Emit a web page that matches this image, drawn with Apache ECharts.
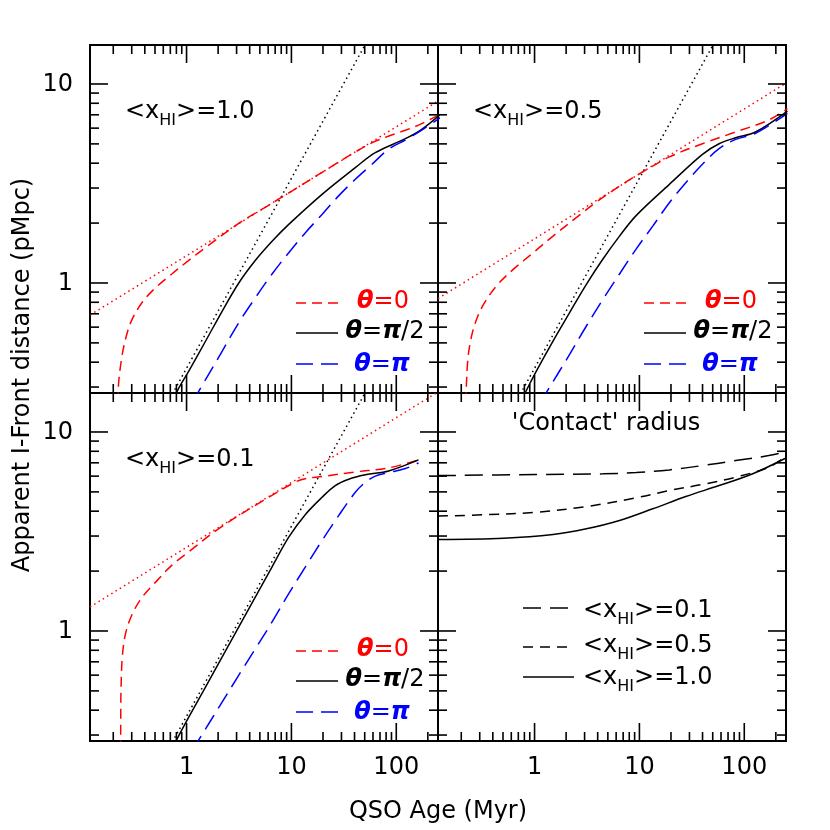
<!DOCTYPE html>
<html>
<head>
<meta charset="utf-8">
<script src="https://cdn.jsdelivr.net/npm/echarts@6/dist/echarts.min.js"></script>
<style>
  html, body { margin: 0; padding: 0; background: #fff; }
  #chart { width: 830px; height: 830px; }
</style>
</head>
<body>
<div id="chart"></div>
<script>
// axes (QSO age in Myr, distance in pMpc), same for all 4 panels
var xRange = [0.12, 250];
var yRange = [0.28, 15.7];
var xMajorTicks = [1, 10, 100];
var xTickLabels = ['1', '10', '100'];
var xMinorTicks = [0.2, 0.3, 0.4, 0.5, 0.6, 0.7, 0.8, 0.9, 2, 3, 4, 5, 6, 7, 8, 9, 20, 30, 40, 50, 60, 70, 80, 90, 200];
var yMajorTicks = [1, 10];
var yTickLabels = ['1', '10'];
var yMinorTicks = [0.3, 0.4, 0.5, 0.6, 0.7, 0.8, 0.9, 2, 3, 4, 5, 6, 7, 8, 9];

// black dotted line (light travel), same in the 3 theta panels
var lightDotted = [[0.658, 0.25], [54.7, 17]];

// <x_HI>=1.0  (top left)
var tlRedDotted = [[0.12, 0.69], [250, 8.2]];
var tlRedDashed = [[0.222, 0.25], [0.223, 0.29], [0.239, 0.41], [0.266, 0.54], [0.304, 0.66], [0.378, 0.80], [0.489, 0.93], [0.68, 1.08], [1.05, 1.30], [1.5, 1.50], [3, 1.96], [6, 2.45], [10, 2.89], [20, 3.62], [40, 4.53], [59, 5.07], [85, 5.48], [122, 5.85], [175, 6.32], [250, 6.95]];
var tlBlack = [[0.74, 0.25], [0.815, 0.286], [1.05, 0.361], [1.52, 0.511], [2.19, 0.723], [3.15, 1.0], [4.54, 1.30], [6.54, 1.62], [9.43, 1.97], [19.6, 2.79], [40.7, 3.80], [63.1, 4.52], [122, 5.31], [175, 5.92], [264, 7.04]];
var tlBlue = [[1.13, 0.25], [1.31, 0.286], [2.19, 0.455], [3.15, 0.632], [4.54, 0.844], [6.54, 1.11], [9.43, 1.42], [13.6, 1.79], [19.6, 2.21], [28.2, 2.74], [40.7, 3.32], [58.7, 3.95], [84.5, 4.70], [122, 5.23], [175, 5.87], [264, 6.78]];

// <x_HI>=0.5  (top right)
var trRedDotted = [[0.12, 0.835], [250, 10.1]];
var trRedDashed = [[0.222, 0.25], [0.223, 0.29], [0.230, 0.40], [0.243, 0.50], [0.272, 0.63], [0.326, 0.78], [0.436, 0.97], [0.626, 1.17], [0.971, 1.42], [1.5, 1.72], [2.5, 2.13], [4, 2.58], [7, 3.15], [12.4, 3.78], [19.3, 4.3], [39.9, 5.01], [82.8, 5.74], [171, 6.59], [258, 7.51]];
var trBlack = [[0.74, 0.25], [0.84, 0.29], [1.04, 0.361], [1.5, 0.511], [2.16, 0.71], [3.12, 0.985], [4.49, 1.32], [6.46, 1.72], [9.3, 2.18], [19.3, 3.13], [39.9, 4.43], [57.5, 5.01], [82.8, 5.37], [128, 5.74], [258, 7.31]];
var trBlue = [[1.13, 0.25], [1.32, 0.286], [2.16, 0.438], [3.12, 0.608], [4.49, 0.828], [6.46, 1.11], [9.3, 1.48], [13.4, 1.93], [19.3, 2.53], [27.7, 3.19], [39.9, 3.95], [57.5, 4.73], [82.8, 5.27], [128, 5.65], [258, 7.12]];

// <x_HI>=0.1  (bottom left)
var blRedDotted = [[0.12, 1.32], [250, 15.9]];
var blRedDashed = [[0.235, 0.25], [0.236, 0.40], [0.237, 0.504], [0.244, 0.741], [0.262, 0.97], [0.304, 1.22], [0.378, 1.48], [0.507, 1.76], [0.73, 2.15], [1.05, 2.5], [2, 3.25], [5, 4.42], [10.9, 5.6], [14, 5.85], [19.6, 5.97], [40.7, 6.3], [84.5, 6.6], [163, 7.24]];
var blBlack = [[0.74, 0.25], [0.815, 0.288], [1.52, 0.524], [3.15, 1.05], [6.54, 2.10], [9.43, 2.96], [13.6, 3.85], [19.6, 4.70], [26.2, 5.38], [35.2, 5.79], [50.7, 6.09], [84.5, 6.37], [163, 7.24]];
var blBlue = [[1.13, 0.25], [1.33, 0.288], [2.19, 0.44], [3.15, 0.60], [4.54, 0.815], [6.54, 1.11], [9.43, 1.54], [13.6, 2.10], [19.6, 2.85], [28.2, 3.80], [40.7, 4.98], [50.7, 5.59], [63.1, 6.0], [84.5, 6.25], [122, 6.55], [163, 6.99]];

// 'Contact' radius (bottom right)
var contact01 = [[0.12, 6.04], [1.04, 6.11], [4.49, 6.16], [9.3, 6.25], [19.3, 6.45], [39.9, 6.78], [82.8, 7.18], [171, 7.61], [250, 7.94]];
var contact05 = [[0.12, 3.78], [0.35, 3.84], [1.04, 3.95], [3.12, 4.22], [9.3, 4.67], [19.3, 5.08], [39.9, 5.45], [82.8, 5.93], [171, 6.65], [250, 7.55]];
var contact10 = [[0.12, 2.88], [0.505, 2.92], [1.5, 3.05], [3.12, 3.26], [6.46, 3.59], [13.4, 4.11], [27.7, 4.74], [57.5, 5.38], [119, 6.15], [250, 7.40]];

var FONT = 'DejaVu Sans';
var RED = '#ff0000', BLUE = '#0000ff', BLACK = '#000000';
var SHORT_DASH = [10, 6], LONG_DASH = [17, 8], DOTS = [1.5, 3.5];

// panel boxes in pixels
var panels = [
  { left: 90, top: 45, xLabels: false, yLabels: true },
  { left: 438, top: 45, xLabels: false, yLabels: false },
  { left: 90, top: 393, xLabels: true, yLabels: true },
  { left: 438, top: 393, xLabels: true, yLabels: false }
];
var PW = 348, PH = 348;

var chart = echarts.init(document.getElementById('chart'), null, { renderer: 'canvas' });

function tickSeries(i, showX, showY) {
  var data = [];
  xMajorTicks.forEach(function (v, k) { data.push([v, yRange[0], 1, 0, k]); });
  xMinorTicks.forEach(function (v) { data.push([v, yRange[0], 0, 0, -1]); });
  yMajorTicks.forEach(function (v, k) { data.push([xRange[0], v, 1, 1, k]); });
  yMinorTicks.forEach(function (v) { data.push([xRange[0], v, 0, 1, -1]); });
  return {
    type: 'custom', xAxisIndex: i, yAxisIndex: i, silent: true, z: 6,
    data: data,
    renderItem: function (params, api) {
      var cs = params.coordSys;
      var major = api.value(2) === 1;
      var isY = api.value(3) === 1;
      var len = major ? 18 : 9;
      var st = { stroke: BLACK, lineWidth: 1.6 };
      var kids = [];
      var p = api.coord([api.value(0), api.value(1)]);
      if (!isY) {
        var x = p[0];
        var yb = cs.y + cs.height, yt = cs.y;
        kids.push({ type: 'line', shape: { x1: x, y1: yb, x2: x, y2: yb - len }, style: st });
        kids.push({ type: 'line', shape: { x1: x, y1: yt, x2: x, y2: yt + len }, style: st });
        if (major && showX) {
          kids.push({ type: 'text', x: x, y: yb + 27, style: {
            text: xTickLabels[api.value(4)], fill: BLACK, fontSize: 24, fontFamily: FONT,
            align: 'center', verticalAlign: 'middle' } });
        }
      } else {
        var y = p[1];
        var xl = cs.x, xr = cs.x + cs.width;
        kids.push({ type: 'line', shape: { x1: xl, y1: y, x2: xl + len, y2: y }, style: st });
        kids.push({ type: 'line', shape: { x1: xr, y1: y, x2: xr - len, y2: y }, style: st });
        if (major && showY) {
          kids.push({ type: 'text', x: xl - 17, y: y + 1, style: {
            text: yTickLabels[api.value(4)], fill: BLACK, fontSize: 24, fontFamily: FONT,
            align: 'right', verticalAlign: 'middle' } });
        }
      }
      return { type: 'group', children: kids };
    }
  };
}

function curve(i, data, color, dash, smooth) {
  return {
    type: 'line', xAxisIndex: i, yAxisIndex: i, data: data,
    symbol: 'none', showSymbol: false, silent: true, clip: true, z: 3,
    smooth: smooth ? 0.35 : false,
    lineStyle: { color: color, width: 1.5, type: dash }
  };
}

var series = [];
panels.forEach(function (p, i) { series.push(tickSeries(i, p.xLabels, p.yLabels)); });

series.push(curve(0, lightDotted, BLACK, DOTS, false));
series.push(curve(0, tlRedDotted, RED, DOTS, false));
series.push(curve(0, tlRedDashed, RED, SHORT_DASH, true));
series.push(curve(0, tlBlack, BLACK, 'solid', true));
series.push(curve(0, tlBlue, BLUE, LONG_DASH, true));

series.push(curve(1, lightDotted, BLACK, DOTS, false));
series.push(curve(1, trRedDotted, RED, DOTS, false));
series.push(curve(1, trRedDashed, RED, SHORT_DASH, true));
series.push(curve(1, trBlack, BLACK, 'solid', true));
series.push(curve(1, trBlue, BLUE, LONG_DASH, true));

series.push(curve(2, lightDotted, BLACK, DOTS, false));
series.push(curve(2, blRedDotted, RED, DOTS, false));
series.push(curve(2, blRedDashed, RED, SHORT_DASH, true));
series.push(curve(2, blBlack, BLACK, 'solid', true));
series.push(curve(2, blBlue, BLUE, LONG_DASH, true));

series.push(curve(3, contact01, BLACK, [18, 9], true));
series.push(curve(3, contact05, BLACK, [10, 7], true));
series.push(curve(3, contact10, BLACK, 'solid', true));

// text helpers
var xhiRich = {
  n: { fontSize: 24, fontFamily: FONT, fill: BLACK },
  s: { fontSize: 16, fontFamily: FONT, fill: BLACK, padding: [18, 0, 0, 0] }
};
function xhiLabel(x, y, val) {
  return { type: 'text', x: x, y: y, z: 20, style: {
    text: '{n|<x}{s|HI}{n|>=' + val + '}', rich: xhiRich,
    align: 'left', verticalAlign: 'middle' } };
}
function thetaLabel(x, y, rest, color) {
  return { type: 'text', x: x, y: y, z: 20, style: {
    text: rest, align: 'center', verticalAlign: 'middle',
    rich: {
      t: { fontSize: 24, fontFamily: FONT, fontStyle: 'italic', fontWeight: 'bold', fill: color },
      n: { fontSize: 24, fontFamily: FONT, fill: color }
    } } };
}
function keyLine(x1, x2, y, color, dash) {
  return { type: 'line', z: 20, shape: { x1: x1, y1: y, x2: x2, y2: y },
    style: { stroke: color, lineWidth: 1.5, lineDash: dash === 'solid' ? null : dash } };
}

var graphic = [];
var xhiVals = ['1.0', '0.5', '0.1'];
[0, 1, 2].forEach(function (i) {
  var p = panels[i];
  graphic.push(xhiLabel(p.left + 35, p.top + 67, xhiVals[i]));
  graphic.push(keyLine(p.left + 206, p.left + 248, p.top + 258, RED, SHORT_DASH));
  graphic.push(keyLine(p.left + 206, p.left + 248, p.top + 288, BLACK, 'solid'));
  graphic.push(keyLine(p.left + 206, p.left + 248, p.top + 319, BLUE, LONG_DASH));
  graphic.push(thetaLabel(p.left + 293, p.top + 257, '{t|θ}{n|=0}', RED));
  graphic.push(thetaLabel(p.left + 295, p.top + 287, '{t|θ}{n|=}{t|π}{n|/2}', BLACK));
  graphic.push(thetaLabel(p.left + 292, p.top + 320, '{t|θ}{n|=}{t|π}', BLUE));
});
var pb = panels[3];
graphic.push({ type: 'text', x: pb.left + 168, y: pb.top + 31, z: 20, style: {
  text: "'Contact' radius", fontSize: 24, fontFamily: FONT, fill: BLACK,
  align: 'center', verticalAlign: 'middle' } });
graphic.push(keyLine(pb.left + 85, pb.left + 136, pb.top + 215, BLACK, [18, 9]));
graphic.push(keyLine(pb.left + 85, pb.left + 136, pb.top + 254, BLACK, [10, 7]));
graphic.push(keyLine(pb.left + 85, pb.left + 136, pb.top + 284, BLACK, 'solid'));
graphic.push(xhiLabel(pb.left + 145, pb.top + 218, '0.1'));
graphic.push(xhiLabel(pb.left + 145, pb.top + 253, '0.5'));
graphic.push(xhiLabel(pb.left + 145, pb.top + 285, '1.0'));

// axis titles
graphic.push({ type: 'text', x: 438, y: 812, z: 20, style: {
  text: 'QSO Age (Myr)', fontSize: 24, fontFamily: FONT, fill: BLACK,
  align: 'center', verticalAlign: 'middle' } });
graphic.push({ type: 'text', x: 23, y: 375, rotation: Math.PI / 2, z: 20, style: {
  text: 'Apparent I-Front distance (pMpc)', fontSize: 24, fontFamily: FONT, fill: BLACK,
  align: 'center', verticalAlign: 'middle' } });

var option = {
  animation: false,
  backgroundColor: '#fff',
  grid: panels.map(function (p) {
    return { left: p.left, top: p.top, width: PW, height: PH, show: true,
      borderColor: BLACK, borderWidth: 2, backgroundColor: 'transparent',
      containLabel: false, outerBoundsMode: 'none' };
  }),
  xAxis: panels.map(function (p, i) {
    return { type: 'log', logBase: 10, gridIndex: i, min: xRange[0], max: xRange[1],
      axisLine: { show: false }, axisTick: { show: false }, axisLabel: { show: false },
      splitLine: { show: false } };
  }),
  yAxis: panels.map(function (p, i) {
    return { type: 'log', logBase: 10, gridIndex: i, min: yRange[0], max: yRange[1],
      axisLine: { show: false }, axisTick: { show: false }, axisLabel: { show: false },
      splitLine: { show: false } };
  }),
  series: series,
  graphic: graphic
};
chart.setOption(option);
</script>
</body>
</html>
